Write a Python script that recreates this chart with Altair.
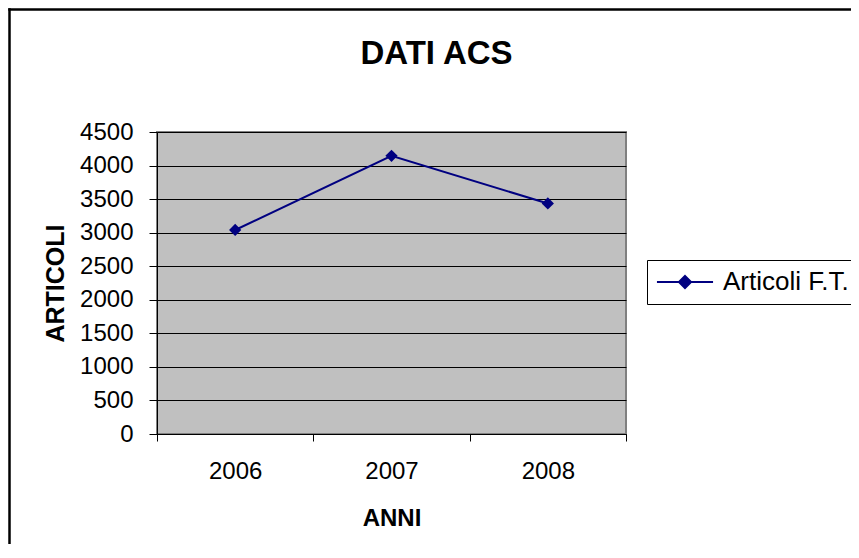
import altair as alt
import pandas as pd

years = ["2006", "2007", "2008"]
articoli = [3040, 4145, 3435]
series_name = "Articoli F.T."
y_ticks = [0, 500, 1000, 1500, 2000, 2500, 3000, 3500, 4000, 4500]

df = pd.DataFrame({"anno": years, "articoli": articoli, "serie": [series_name] * len(years)})

NAVY = "#000080"
FONT = "Liberation Sans"

x_enc = alt.X(
    "anno:O",
    scale=alt.Scale(type="band", paddingInner=0, paddingOuter=0),
    axis=alt.Axis(
        title="ANNI", tickBand="extent", labelAngle=0, grid=False,
        domainColor="black", tickColor="black", tickSize=7,
        labelFontSize=24, labelBaseline="alphabetic", labelPadding=37, labelColor="black",
        titleFontSize=24, titleFontWeight="bold", titleY=91, titleBaseline="alphabetic",
        titleColor="black",
    ),
)
y_enc = alt.Y(
    "articoli:Q",
    scale=alt.Scale(domain=[0, 4500], nice=False, zero=True),
    axis=alt.Axis(
        title="ARTICOLI", values=y_ticks, tickCount=10, format="d", labelOverlap=False,
        grid=True, gridColor="black", gridWidth=1,
        gridOpacity=1, domainColor="black", tickColor="black", tickSize=8,
        labelFontSize=24, labelPadding=16, labelColor="black",
        titleFontSize=25, titleFontWeight="bold", titleX=-94, titleBaseline="alphabetic",
        titleColor="black",
    ),
)

legend_symbol = "M-2.55,0H2.55M0,-0.55L0.55,0L0,0.55L-0.55,0Z"

line = alt.Chart(df).mark_line(strokeWidth=2).encode(
    x=x_enc,
    y=y_enc,
    color=alt.Color(
        "serie:N",
        scale=alt.Scale(range=[NAVY]),
        legend=alt.Legend(
            title=None, orient="none", legendX=490, legendY=128,
            strokeColor="black", fillColor="white", padding=9,
            symbolType=legend_symbol, symbolSize=484, symbolOffset=16,
            symbolStrokeWidth=2, symbolFillColor=NAVY, symbolStrokeColor=NAVY,
            labelOffset=25, labelFontSize=26, labelColor="black", labelFont=FONT,
        ),
    ),
)

points = alt.Chart(df).mark_point(shape="diamond", filled=True, size=150, color=NAVY, opacity=1).encode(
    x=x_enc,
    y=y_enc,
)

frame_df = pd.DataFrame({"k": [0]})
frame_top = alt.Chart(frame_df).mark_rule(color="black", strokeWidth=2.5).encode(
    x=alt.value(-148.75), x2=alt.value(720), y=alt.value(-122.5)
)
frame_left = alt.Chart(frame_df).mark_rule(color="black", strokeWidth=2.5).encode(
    x=alt.value(-147.5), y=alt.value(-123.75), y2=alt.value(440)
)

chart = alt.layer(line, points, frame_top, frame_left).properties(
    width=469,
    height=302,
    autosize=alt.AutoSizeParams(type="none"),
    padding={"left": 149, "top": 124, "right": 225, "bottom": 110},
    background="white",
    title=alt.Title(
        "DATI ACS", fontSize=33, fontWeight="bold", anchor="middle", frame="group",
        dx=45, offset=-90, baseline="alphabetic", color="black", font=FONT,
    ),
).configure(font=FONT).configure_view(
    fill="#C0C0C0", stroke="#808080", strokeWidth=2
)

chart.save("out.html", embed_options={"renderer": "svg", "actions": False})
